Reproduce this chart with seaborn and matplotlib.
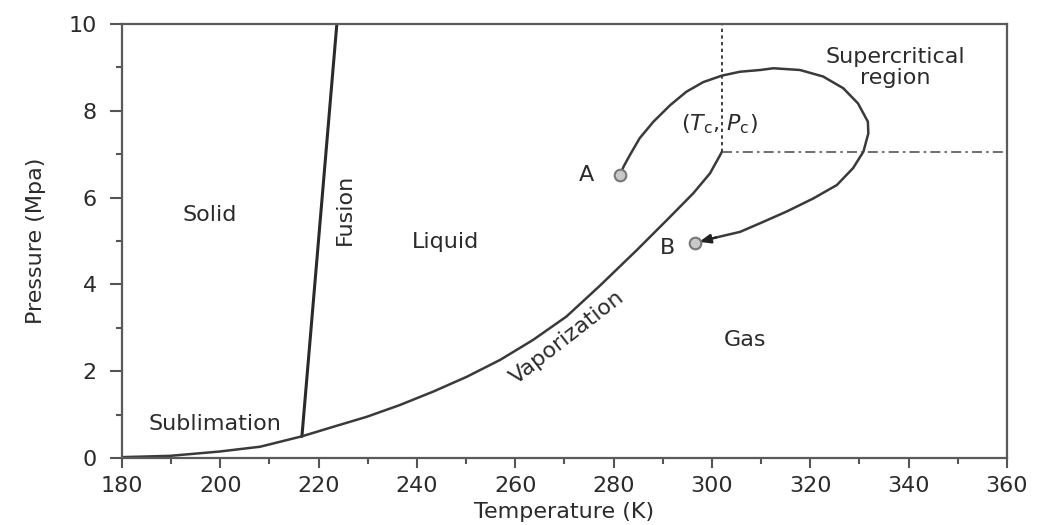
import numpy as np
import pandas as pd
import matplotlib
matplotlib.use("Agg")
import matplotlib.pyplot as plt
import seaborn as sns

# Phase boundaries (temperature in K, pressure in MPa)
sub_T = [180.0, 189.8, 199.9, 208.1, 216.6]
sub_P = [0.02, 0.05, 0.15, 0.26, 0.50]

fus_T = [216.6, 223.7]
fus_P = [0.50, 10.0]

vap_T = [216.6, 223.0, 229.8, 236.5, 243.3, 250.1, 256.9, 263.6, 270.4,
         277.2, 284.7, 290.8, 296.2, 299.6, 302.0]
vap_P = [0.50, 0.72, 0.95, 1.22, 1.53, 1.87, 2.26, 2.72, 3.26,
         3.97, 4.79, 5.48, 6.10, 6.56, 7.05]

# Critical point
Tc, Pc = 302.0, 7.05

# Process path going around the critical point from A to B
path_T = [281.3, 282.0, 283.3, 285.3, 288.1, 291.5, 294.8, 298.2, 302.0, 305.7,
          309.8, 312.5, 317.9, 322.6, 326.7, 329.7, 331.7, 331.8, 330.8, 328.7,
          325.4, 320.6, 315.2, 309.8, 305.7, 300.8, 297.4]
path_P = [6.52, 6.71, 6.98, 7.37, 7.75, 8.13, 8.44, 8.66, 8.81, 8.90,
          8.94, 8.98, 8.94, 8.79, 8.52, 8.17, 7.75, 7.48, 7.06, 6.68,
          6.29, 5.98, 5.68, 5.41, 5.21, 5.08, 4.98]

state_names = ["A", "B"]
state_T = [281.3, 296.5]
state_P = [6.52, 4.95]

x_ticks = [180, 200, 220, 240, 260, 280, 300, 320, 340, 360]
y_ticks = [0, 2, 4, 6, 8, 10]

sns.set_theme(style="ticks")
plt.rcParams["font.family"] = ["DejaVu Sans"]

fig = plt.figure(figsize=(10.39, 5.25), dpi=100)
ax = fig.add_axes([0.1174, 0.1276, 0.8518, 0.8267])

line_col = "#3a3a3a"

sns.lineplot(x=sub_T, y=sub_P, ax=ax, color=line_col, lw=1.8, sort=False, estimator=None)
sns.lineplot(x=fus_T, y=fus_P, ax=ax, color="#2a2a2a", lw=2.2, sort=False, estimator=None)
sns.lineplot(x=vap_T, y=vap_P, ax=ax, color=line_col, lw=1.8, sort=False, estimator=None)

# Critical isotherm and isobar
ax.plot([Tc, Tc], [Pc, 10], color="#222222", lw=1.2, ls=(0, (2, 2)))
ax.plot([Tc, 360], [Pc, Pc], color="#555555", lw=1.2, ls=(0, (6, 2.5, 1.5, 2.5)))

# Path around the critical point, ending with an arrow at B
path_df = pd.DataFrame({"T": path_T, "P": path_P})
sns.lineplot(data=path_df.iloc[:-1], x="T", y="P", ax=ax, color=line_col, lw=1.8,
             sort=False, estimator=None)
ax.annotate("", xy=(path_T[-1], path_P[-1]), xytext=(path_T[-2], path_P[-2]),
            arrowprops=dict(arrowstyle="-|>,head_length=0.55,head_width=0.22",
                            color="#222222", lw=1.8, shrinkA=0, shrinkB=0))

sns.scatterplot(x=state_T, y=state_P, ax=ax, s=70, color="#c8c8c8",
                edgecolor="#777777", linewidth=1.5, zorder=5)

fs = 16
txt_col = "#2b2b2b"
label_offsets = {"A": (-6.8, 0.0), "B": (-5.6, -0.12)}
for name, t, p in zip(state_names, state_T, state_P):
    dx, dy = label_offsets[name]
    ax.text(t + dx, p + dy, name, fontsize=fs, color=txt_col, ha="center", va="center")

ax.text(197.9, 5.6, "Solid", fontsize=fs, color=txt_col, ha="center", va="center")
ax.text(225.4, 5.72, "Fusion", fontsize=fs, color=txt_col, ha="center", va="center", rotation=90)
ax.text(245.7, 4.98, "Liquid", fontsize=fs, color=txt_col, ha="center", va="center")
ax.text(198.9, 0.78, "Sublimation", fontsize=fs, color=txt_col, ha="center", va="center")
ax.text(270.6, 2.78, "Vaporization", fontsize=fs, color=txt_col, ha="center", va="center",
        rotation=38, rotation_mode="anchor")
ax.text(306.7, 2.72, "Gas", fontsize=fs, color=txt_col, ha="center", va="center")
ax.text(337.2, 9.0, "Supercritical\nregion", fontsize=fs, color=txt_col, ha="center",
        va="center", linespacing=1.1)
ax.text(301.6, 7.7, r"($T_{\mathrm{c}}$, $P_{\mathrm{c}}$)", fontsize=fs, color=txt_col,
        ha="center", va="center")

ax.set_xlim(180, 360)
ax.set_ylim(0, 10)
ax.set_xticks(x_ticks)
ax.set_yticks(y_ticks)
ax.set_xticks(np.arange(190, 360, 20), minor=True)
ax.set_yticks(np.arange(1, 10, 2), minor=True)
ax.tick_params(axis="both", which="major", direction="out", length=7, width=1.5,
               color="#555555", labelsize=fs, labelcolor=txt_col, pad=6)
ax.tick_params(axis="y", which="major", length=9, pad=9)
ax.tick_params(axis="both", which="minor", direction="out", length=4, width=1.5,
               color="#555555")

for side in ["top", "right", "left", "bottom"]:
    ax.spines[side].set_visible(True)
    ax.spines[side].set_color("#5a5a5a")
    ax.spines[side].set_linewidth(1.6)

ax.set_xlabel("Temperature (K)", fontsize=fs, color=txt_col, labelpad=4)
ax.set_ylabel("Pressure (Mpa)", fontsize=fs, color=txt_col, labelpad=16)

fig.savefig("out.png", dpi=100, facecolor="white")
